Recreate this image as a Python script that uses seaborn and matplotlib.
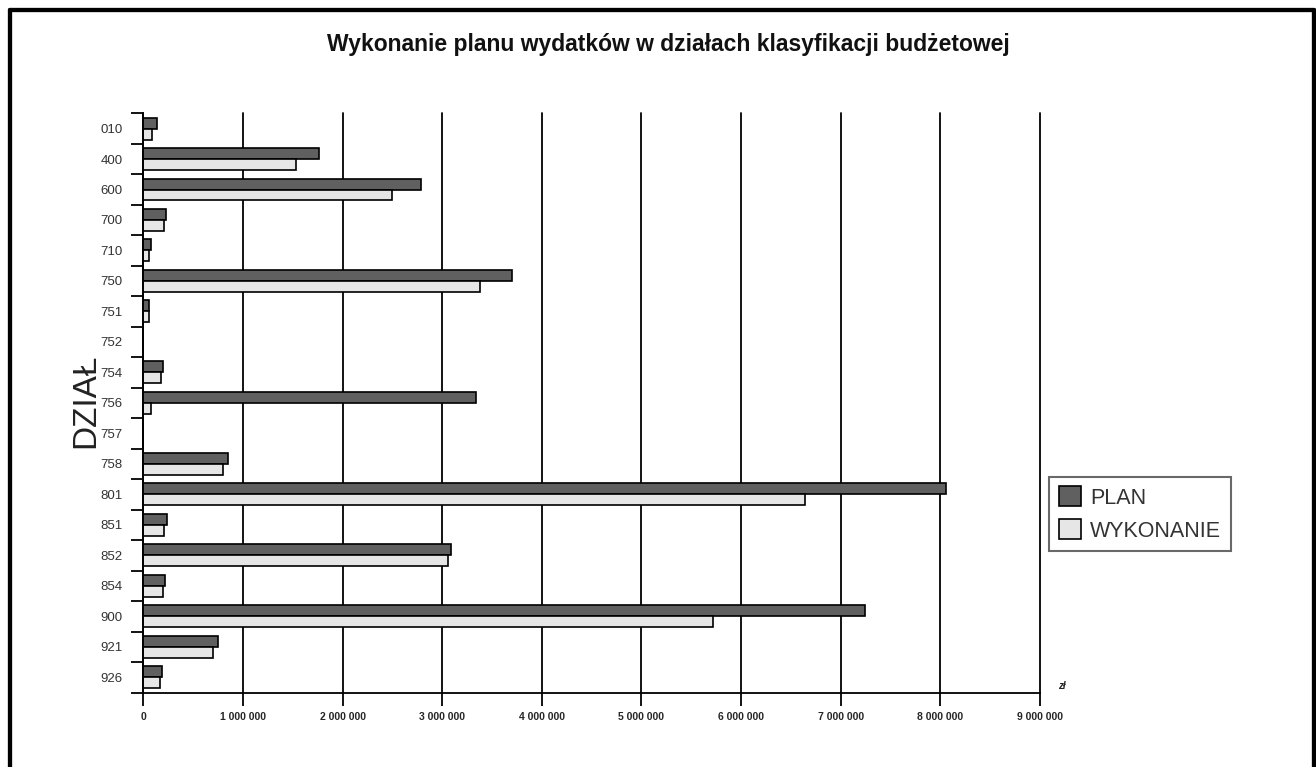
import pandas as pd
import numpy as np
import matplotlib
matplotlib.use("Agg")
import matplotlib.pyplot as plt
import seaborn as sns
from matplotlib.ticker import FuncFormatter, FixedLocator
from matplotlib.lines import Line2D

# data (zl)
dzialy = ['010', '400', '600', '700', '710', '750', '751', '752', '754', '756',
          '757', '758', '801', '851', '852', '854', '900', '921', '926']
plan = [135000, 1760000, 2790000, 230000, 74000, 3700000, 60000, 0, 198000, 3340000,
        0, 850000, 8060000, 240000, 3090000, 215000, 7240000, 745000, 185000]
wykonanie = [90000, 1530000, 2500000, 210000, 60000, 3380000, 60000, 0, 180000, 75000,
             0, 800000, 6640000, 210000, 3060000, 200000, 5720000, 700000, 170000]
series = ['PLAN', 'WYKONANIE']
colors = ['#606060', '#e6e6e6']

df = pd.DataFrame({
    'dzial': dzialy * 2,
    'value': plan + wykonanie,
    'series': [series[0]] * len(dzialy) + [series[1]] * len(dzialy),
})

sns.set_theme(style='white')
plt.rcParams['font.family'] = ['Liberation Sans', 'DejaVu Sans']

fig = plt.figure(figsize=(13.16, 7.67), dpi=100)
ax = fig.add_axes([0.1089, 0.0971, 0.7903 - 0.1089, 0.8523 - 0.0971])

sns.barplot(data=df, y='dzial', x='value', hue='series', orient='h',
            order=dzialy, hue_order=series, palette=colors,
            edgecolor='black', linewidth=1.2, width=0.72, saturation=1,
            ax=ax, legend=True)

ax.set_xlim(0, 9000000)
ax.set_ylim(len(dzialy) - 0.5, -0.5)
ax.xaxis.set_major_locator(FixedLocator(np.arange(0, 9000001, 1000000)))
ax.xaxis.set_major_formatter(FuncFormatter(lambda v, p: f"{int(v):,}".replace(",", " ")))
ax.grid(axis='x', color='black', linewidth=1.3)
ax.grid(axis='y', visible=False)
ax.set_axisbelow(True)
for gl in ax.get_xgridlines():
    gl.set_clip_on(False)

for side in ['top', 'right']:
    ax.spines[side].set_visible(False)
for side in ['left', 'bottom']:
    ax.spines[side].set_color('black')
    ax.spines[side].set_linewidth(1.3)

# labels at centers, ticks at category boundaries
ax.yaxis.set_minor_locator(FixedLocator(np.arange(-0.5, len(dzialy), 1.0)))
ax.tick_params(axis='y', which='major', length=0, pad=15, labelsize=9.5, labelcolor='#333333')
ax.tick_params(axis='y', which='minor', left=True, length=9, width=1.3, color='black', direction='out')
ax.tick_params(axis='x', which='major', bottom=True, length=9, width=1.3, color='black',
               direction='out', pad=5, labelsize=7.5)
for lbl in ax.get_xticklabels():
    lbl.set_fontweight('bold')

ax.set_xlabel('')
ax.set_ylabel('')

handles, labels = ax.get_legend_handles_labels()
ax.get_legend().remove()
leg = fig.legend(handles, labels, loc='upper left', bbox_to_anchor=(1049 / 1316, 1 - 476.7 / 767),
                 fontsize=15.5, frameon=True, fancybox=False, handlelength=1.05, handleheight=1.05,
                 handletextpad=0.4, labelspacing=0.5, borderpad=0.45, borderaxespad=0)
leg.get_frame().set_edgecolor('#444444')
leg.get_frame().set_linewidth(1.5)
for h in leg.legend_handles:
    h.set_edgecolor('black')
    h.set_linewidth(1.2)
for t in leg.get_texts():
    t.set_color('#333333')

fig.text(668 / 1316, 1 - 45 / 767, 'Wykonanie planu wydatków w działach klasyfikacji budżetowej',
         ha='center', va='center', fontsize=16.5, fontweight='bold', color='#111111')
fig.text(86 / 1316, 1 - 401 / 767, 'DZIAŁ', rotation=90, ha='center', va='center',
         fontsize=24, color='#222222')
fig.text(1062 / 1316, 1 - 686 / 767, 'zł', ha='center', va='center',
         fontsize=7, fontweight='bold', fontstyle='italic', color='#222222')

# page frame (left, top, right edges)
x0, x1 = 9.5 / 1316, 1313.8 / 1316
y1 = 1 - 9.5 / 767
for xs, ys in [([x0, x0], [-0.1, y1]), ([x0, x1], [y1, y1]), ([x1, x1], [y1, -0.1])]:
    fig.add_artist(Line2D(xs, ys, transform=fig.transFigure, color='black', linewidth=3.1))

fig.savefig('out.png', dpi=100)
